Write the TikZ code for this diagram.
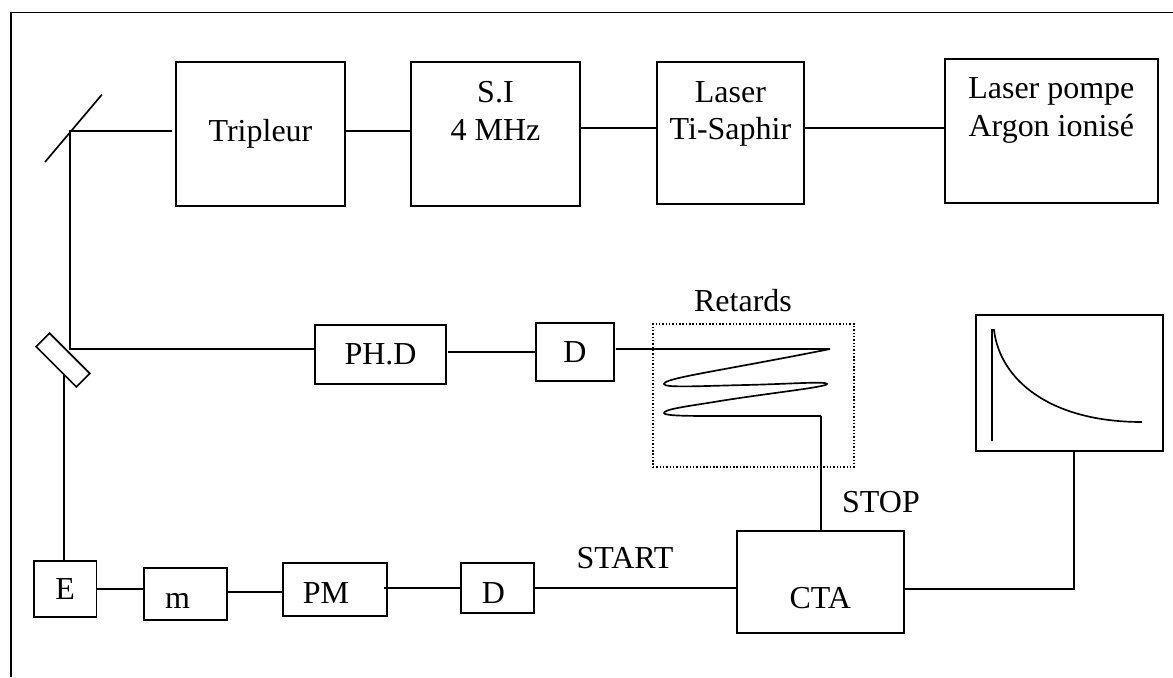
\documentclass[tikz,border=0pt]{standalone}
\usepackage{fontspec}
\setmainfont{Liberation Serif}
\usetikzlibrary{positioning, calc}

\begin{document}
\begin{tikzpicture}[
  x=0.02cm, y=-0.02cm,
  line width=0.95pt,
  box/.style={draw, outer sep=0pt, inner sep=0pt, align=center,
              font=\fontsize{18.2}{21.6}\selectfont},
  lbl/.style={inner sep=0pt, anchor=base, font=\fontsize{18.2}{21.6}\selectfont},
  optic/.style={draw, outer sep=0pt, inner sep=0pt, rotate=-45,
                minimum width=1.14cm, minimum height=0.38cm}
]
\useasboundingbox (0,0) rectangle (1173,677);

% Outer frame, open on two sides
\draw (1173,12.5) -- (11,12.5) -- (11,677);

% Laser chain
\node[box, minimum width=3.38cm, minimum height=2.88cm] (trip) at (260.5,134) {Tripleur};
\node[box, minimum width=3.38cm, minimum height=2.88cm, text depth=0.94cm,
      right=1.32cm of trip] (si) {S.I\\4 MHz};
\node[box, minimum width=2.94cm, minimum height=2.84cm, text depth=0.9cm,
      right=1.54cm of si, yshift=0.02cm] (laser) {Laser\\Ti-Saphir};
\node[box, minimum width=4.26cm, minimum height=2.88cm, text depth=0.96cm,
      right=2.82cm of laser, yshift=0.04cm] (pompe) {Laser pompe\\Argon ionisé};

% Photodiode and delay
\node[box, minimum width=2.62cm, minimum height=1.18cm] (phd) at (380.5,354.5) {PH.D};
\node[box, minimum width=1.56cm, minimum height=1.17cm,
      right=1.8cm of phd, yshift=0.05cm] (dphd) {D};
\draw ([xshift=0.04cm]dphd.west -| phd.east) -- (dphd.west);

% Mirrors
\coordinate (mira) at (45,162);
\coordinate (mirc) at (102,94.5);
\coordinate (mirt) at (70,131);
\coordinate (mirs) at (70,349);
\coordinate (mirb) at (64,375);
\node[optic] (split) at (63,360) {};
\draw (mira) -- (mirc);

% Beam
\draw ([xshift=-0.08cm]mirt -| trip.west) -- (mirt) -- (mirs) -- (mirs -| phd.west);
\draw ([yshift=0.06cm]trip.east) -- ([yshift=0.06cm]si.west);
\draw ([yshift=0.12cm]si.east) -- ([yshift=0.12cm]si.east -| laser.west);
\draw ([yshift=0.1cm]laser.east) -- ([yshift=0.1cm]laser.east -| pompe.west);

\node[draw, line width=0.8pt, dash pattern=on 0.8pt off 1.1pt, outer sep=0pt,
      minimum width=4.02cm, minimum height=2.86cm] (ret) at (753.5,395.5) {};
\node[lbl] (rett) at (743,311) {Retards};

\coordinate (dl0) at (830,349);
\coordinate (dl1) at (821,416);
\draw ([xshift=0.04cm]dphd.east |- dl0) -- (dl0)
    .. controls (720,371) and (664,378) .. (664,384)
    .. controls (664,388) and (700,386) .. (745,385)
    .. controls (790,384) and (827,381) .. (827,384)
    .. controls (827,387) and (770,393) .. (720,401)
    .. controls (690,406) and (664,409) .. (664,413)
    .. controls (664,416) and (690,416) .. (720,416)
    -- (dl1);

% Detection line
\node[box, minimum width=1.25cm, minimum height=1.12cm] (e) at (65.25,589) {E};
\node[box, minimum width=1.66cm, minimum height=1.04cm, text height=0.56cm, text depth=0pt,
      right=0.95cm of e, yshift=-0.1cm] (mono) {m\hspace{0.32cm}};
\node[box, minimum width=2.08cm, minimum height=1.06cm, text height=0.54cm, text depth=0pt,
      right=1.12cm of mono, yshift=0.09cm] (pm) {PM\hspace{0.36cm}};
\node[box, minimum width=1.46cm, minimum height=1cm, text height=0.6cm, text depth=0pt,
      right=1.48cm of pm, yshift=0.03cm] (dpm) {D\hspace{0.16cm}};
\node[box, minimum width=3.34cm, minimum height=2.04cm, text height=1.04cm, text depth=0pt,
      right=4.06cm of dpm, yshift=0.12cm] (cta) {CTA};

\draw (mirb) -- (mirb |- e.north);
\draw (e.east) -- (e.east -| mono.west);
\draw ([yshift=0.04cm]mono.east) -- ([yshift=0.04cm]mono.east -| pm.west);
\draw ([xshift=-0.06cm]dpm.west -| pm.east) -- (dpm.west);
\draw (dpm.east) -- (dpm.east -| cta.west);
\draw (dl1) -- (dl1 |- cta.north);

\node[lbl] (start) at (625,568) {START};
\node[lbl] (stop) at (881,512) {STOP};

% Scope
\node[draw, outer sep=0pt, minimum width=3.74cm, minimum height=2.72cm] (scope) at (1069.5,383) {};
\coordinate (sc0) at (992,441);
\coordinate (sc1) at (992,330);
\coordinate (sc2) at (994,330);
\coordinate (sc3) at (1142,422);
\draw (sc0) -- (sc1) -- (sc2) .. controls (1000,380) and (1050,422) .. (sc3);
\draw ([yshift=-0.14cm]cta.east) -| ([xshift=0.09cm]scope.south);
\end{tikzpicture}
\end{document}
